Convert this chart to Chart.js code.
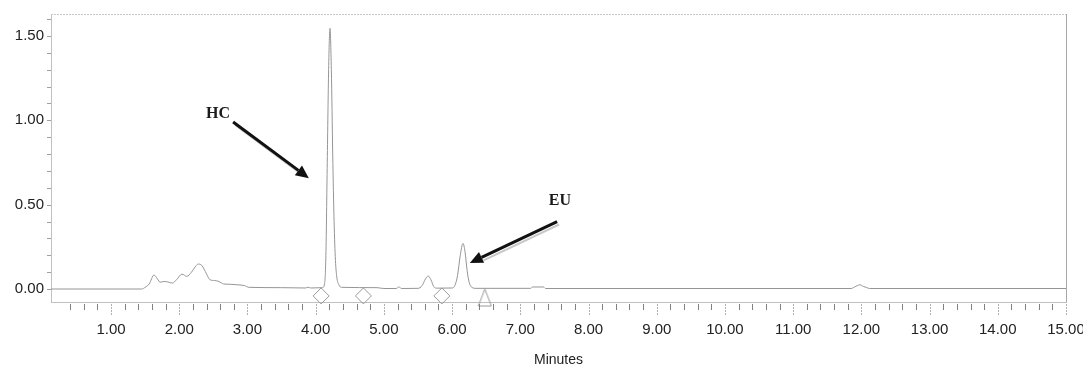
<!DOCTYPE html>
<html>
<head>
<meta charset="utf-8">
<script src="https://cdn.jsdelivr.net/npm/chart.js@4.4.1/dist/chart.umd.min.js"></script>
<style>
  html, body { margin: 0; padding: 0; background: #fff; }
  #wrap { width: 1083px; height: 369px; }
</style>
</head>
<body>
<div id="wrap"><canvas id="miGrafica"></canvas></div>
<script>
const tiempos = [
  0.12, 1.45, 1.50, 1.56, 1.63, 1.68, 1.72, 1.78, 1.85, 1.90, 1.96, 2.04, 2.11, 2.18, 2.24, 2.28,
  2.33, 2.40, 2.45, 2.52, 2.58, 2.65, 2.75, 2.85, 2.96, 3.02, 3.50, 3.85, 3.89, 3.93,
  4.10, 4.13, 4.15, 4.17, 4.19, 4.21, 4.23, 4.25, 4.27, 4.29, 4.31, 4.34, 4.38,
  4.90, 5.00, 5.18, 5.22, 5.26, 5.50, 5.56, 5.61, 5.65, 5.69, 5.73, 5.78,
  6.00, 6.04, 6.08, 6.12, 6.16, 6.19, 6.22, 6.25, 6.29, 6.35,
  7.15, 7.18, 7.34, 7.37, 11.85, 11.90, 11.98, 12.03, 12.07, 12.12, 15.00
];
const senal = [
  0.000, 0.000, 0.010, 0.030, 0.083, 0.060, 0.040, 0.045, 0.040, 0.035, 0.055, 0.088, 0.075, 0.100, 0.135, 0.148,
  0.140, 0.090, 0.055, 0.050, 0.045, 0.030, 0.028, 0.025, 0.020, 0.010, 0.008, 0.006, 0.010, 0.006,
  0.008, 0.030, 0.200, 0.750, 1.300, 1.545, 1.300, 0.800, 0.400, 0.170, 0.070, 0.025, 0.010,
  0.008, 0.003, 0.003, 0.012, 0.003, 0.004, 0.020, 0.060, 0.077, 0.055, 0.015, 0.005,
  0.006, 0.020, 0.080, 0.200, 0.270, 0.220, 0.110, 0.040, 0.010, 0.004,
  0.004, 0.012, 0.012, 0.003, 0.003, 0.012, 0.025, 0.015, 0.010, 0.003, 0.003
];

// marcas de integracion bajo la linea base
const rombosX = [4.08, 4.70, 5.85];
const rombosY = [-0.041, -0.041, -0.041];
const triangulosX = [6.48];
const triangulosY = [-0.05];

// ejes
const ejeXMin = 0.12, ejeXMax = 15.0;
const ejeYMin = -0.077, ejeYMax = 1.63;
const ticksX = [1, 2, 3, 4, 5, 6, 7, 8, 9, 10, 11, 12, 13, 14, 15];
const etiquetasX = ["1.00", "2.00", "3.00", "4.00", "5.00", "6.00", "7.00", "8.00", "9.00", "10.00", "11.00", "12.00", "13.00", "14.00", "15.00"];
const ticksY = [0, 0.5, 1.0, 1.5];
const etiquetasY = ["0.00", "0.50", "1.00", "1.50"];
const menoresX = [];
for (let v = 2; v <= 75; v++) { if (v % 5 !== 0) menoresX.push(v / 5); }
const menoresY = [0.1, 0.2, 0.3, 0.4, 0.6, 0.7, 0.8, 0.9, 1.1, 1.2, 1.3, 1.4, 1.6];

// anotaciones: texto, posicion del texto, cola y punta de la flecha
const anotaciones = [
  { texto: "HC", tx: 2.57, ty: 1.04, x1: 2.79, y1: 0.99, x2: 3.90, y2: 0.657 },
  { texto: "EU", tx: 7.58, ty: 0.52, x1: 7.54, y1: 0.40, x2: 6.26, y2: 0.154 }
];

const fuente = "'Liberation Sans', Arial, sans-serif";

// triangulo propio (mas alto que ancho)
const triangulo = document.createElement("canvas");
triangulo.width = 15; triangulo.height = 19;
(function(){
  let c = triangulo.getContext("2d");
  c.strokeStyle = "#9a9a9a";
  c.lineWidth = 1;
  c.beginPath();
  c.moveTo(7.5, 1);
  c.lineTo(14, 18);
  c.lineTo(1, 18);
  c.closePath();
  c.stroke();
})();

const dibujoExtra = {
  id: "dibujoExtra",
  afterDraw(chart) {
    const ctx = chart.ctx;
    const x = chart.scales.x, y = chart.scales.y;
    const area = chart.chartArea;
    ctx.save();

    // marco superior y derecho
    ctx.strokeStyle = "#c8c8c8";
    ctx.lineWidth = 1;
    ctx.setLineDash([2, 1]);
    ctx.beginPath();
    ctx.moveTo(area.left, area.top + 0.5);
    ctx.lineTo(area.right, area.top + 0.5);
    ctx.stroke();
    ctx.setLineDash([]);
    ctx.strokeStyle = "#a8a8a8";
    ctx.beginPath();
    ctx.moveTo(area.right + 0.5, area.top);
    ctx.lineTo(area.right + 0.5, area.bottom);
    ctx.stroke();

    // ticks del eje x
    ctx.strokeStyle = "#808080";
    menoresX.forEach(function(v){
      let px = Math.round(x.getPixelForValue(v)) + 0.5;
      ctx.beginPath();
      ctx.moveTo(px, area.bottom + 2);
      ctx.lineTo(px, area.bottom + 8);
      ctx.stroke();
    });
    ctx.strokeStyle = "#b0b0b0";
    ctx.setLineDash([2, 1]);
    ticksX.forEach(function(v){
      let px = Math.round(x.getPixelForValue(v)) + 0.5;
      ctx.beginPath();
      ctx.moveTo(px, area.bottom + 2);
      ctx.lineTo(px, area.bottom + 14);
      ctx.stroke();
    });
    ctx.setLineDash([]);

    // ticks del eje y
    ctx.strokeStyle = "#a0a0a0";
    menoresY.concat(ticksY).forEach(function(v){
      let py = Math.round(y.getPixelForValue(v)) + 0.5;
      ctx.beginPath();
      ctx.moveTo(area.left - 4, py);
      ctx.lineTo(area.left, py);
      ctx.stroke();
    });

    // flechas y textos
    anotaciones.forEach(function(a){
      let x1 = x.getPixelForValue(a.x1), y1 = y.getPixelForValue(a.y1);
      let x2 = x.getPixelForValue(a.x2), y2 = y.getPixelForValue(a.y2);
      let ang = Math.atan2(y2 - y1, x2 - x1);
      let largo = 13, ancho = 6;
      let bx = x2 - largo * Math.cos(ang), by = y2 - largo * Math.sin(ang);

      // sombra gris
      ctx.strokeStyle = "#c8c8c8";
      ctx.lineWidth = 2;
      ctx.beginPath();
      ctx.moveTo(x1 + 2, y1 + 3);
      ctx.lineTo(bx + 2, by + 3);
      ctx.stroke();

      ctx.strokeStyle = "#111";
      ctx.lineWidth = 3;
      ctx.beginPath();
      ctx.moveTo(x1, y1);
      ctx.lineTo(bx, by);
      ctx.stroke();

      ctx.fillStyle = "#111";
      ctx.beginPath();
      ctx.moveTo(x2, y2);
      ctx.lineTo(bx + ancho * Math.sin(ang), by - ancho * Math.cos(ang));
      ctx.lineTo(bx - ancho * Math.sin(ang), by + ancho * Math.cos(ang));
      ctx.closePath();
      ctx.fill();

      ctx.fillStyle = "#1a1a1a";
      ctx.font = "bold 16px 'Liberation Serif', 'DejaVu Serif', serif";
      ctx.textAlign = "center";
      ctx.textBaseline = "middle";
      ctx.fillText(a.texto, x.getPixelForValue(a.tx), y.getPixelForValue(a.ty));
    });

    ctx.restore();
  }
};

let ctx = document.getElementById("miGrafica").getContext("2d");

let grafica = new Chart(ctx, {

    type: "line",

    data: {
        datasets: [
            {
                label: "Cromatograma",
                data: tiempos.map((t, i) => ({ x: t, y: senal[i] })),
                borderColor: "#959595",
                borderWidth: 1,
                pointRadius: 0,
                cubicInterpolationMode: "monotone",
                fill: false
            },
            {
                label: "Rombos",
                data: rombosX.map((t, i) => ({ x: t, y: rombosY[i] })),
                showLine: false,
                clip: false,
                pointStyle: "rectRot",
                pointRadius: 8,
                pointBorderWidth: 1,
                pointBorderColor: "#9a9a9a",
                pointBackgroundColor: "rgba(255,255,255,0)"
            },
            {
                label: "Triangulos",
                data: triangulosX.map((t, i) => ({ x: t, y: triangulosY[i] })),
                showLine: false,
                clip: false,
                pointStyle: triangulo,
                pointRadius: 8
            }
        ]
    },

    options: {

        responsive: true,

        maintainAspectRatio: false,

        animation: false,

        layout: {
            padding: { top: 14, right: 17, left: 0, bottom: 0 }
        },

        plugins: {
            legend: { display: false },
            tooltip: { enabled: false }
        },

        scales: {

            x: {
                type: "linear",
                min: ejeXMin,
                max: ejeXMax,
                afterBuildTicks: function(scale){
                    scale.ticks = ticksX.map(v => ({ value: v }));
                },
                afterFit: function(scale){
                    scale.height = 67;
                    scale.paddingLeft = 0;
                    scale.paddingRight = 0;
                },
                grid: {
                    drawOnChartArea: false,
                    drawTicks: false
                },
                border: {
                    color: "#c0c0c0",
                    dash: [2, 1]
                },
                ticks: {
                    autoSkip: false,
                    maxRotation: 0,
                    padding: 19,
                    color: "#222",
                    font: { family: fuente, size: 15 },
                    callback: function(value){
                        let i = ticksX.indexOf(value);
                        return i >= 0 ? etiquetasX[i] : "";
                    }
                },
                title: {
                    display: true,
                    text: "Minutes",
                    color: "#222",
                    font: { family: fuente, size: 14 },
                    padding: { top: 13, bottom: 0 }
                }
            },

            y: {
                min: ejeYMin,
                max: ejeYMax,
                afterBuildTicks: function(scale){
                    scale.ticks = ticksY.map(v => ({ value: v }));
                },
                afterFit: function(scale){
                    scale.width = 51;
                    scale.paddingTop = 0;
                    scale.paddingBottom = 0;
                },
                grid: {
                    drawOnChartArea: false,
                    drawTicks: false
                },
                border: {
                    color: "#c0c0c0",
                    dash: [2, 1]
                },
                ticks: {
                    padding: 7,
                    color: "#222",
                    font: { family: fuente, size: 15 },
                    callback: function(value){
                        let i = ticksY.indexOf(value);
                        return i >= 0 ? etiquetasY[i] : "";
                    }
                }
            }

        }

    },

    plugins: [dibujoExtra]

});
</script>
</body>
</html>
